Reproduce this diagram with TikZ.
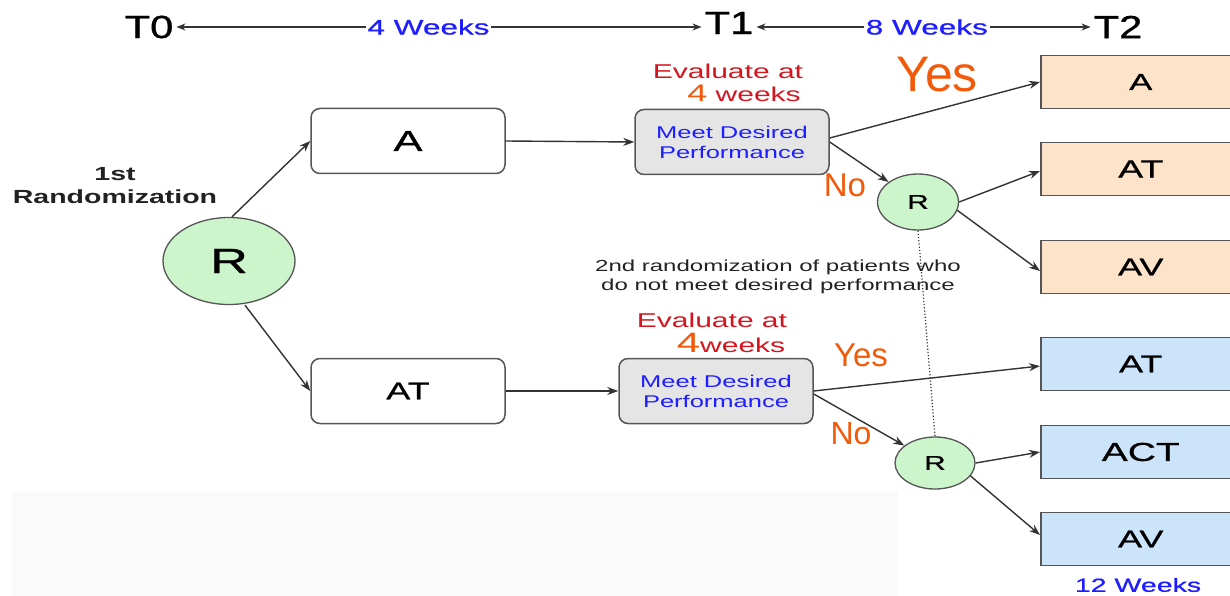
\documentclass[tikz,border=0pt]{standalone}
\usepackage{fontspec}
\setmainfont{Liberation Sans}
\newfontfamily\wf[FakeStretch=1.5]{Liberation Sans}
\newfontfamily\wfb[FakeStretch=1.5,FakeBold=0.8]{Liberation Sans}
\newfontfamily\tf[FakeStretch=1.3,FakeBold=1]{Liberation Sans}
\usetikzlibrary{arrows.meta,shapes.geometric}
\definecolor{peach}{HTML}{FDE3C9}
\definecolor{lblue}{HTML}{CCE4F9}
\definecolor{lgreen}{HTML}{CCF5CC}
\definecolor{boxgray}{HTML}{E5E5E5}
\definecolor{boxline}{HTML}{555555}
\definecolor{arrowc}{HTML}{333333}
\definecolor{tblue}{HTML}{1E1EFF}
\definecolor{tred}{HTML}{D5141E}
\definecolor{torange}{HTML}{F25A0A}
\definecolor{tdark}{HTML}{222222}
\definecolor{faint}{HTML}{FAFAFA}
\newcommand\setfs[2]{\fontsize{#1}{#2}\selectfont}
\tikzset{
  wbox/.style={draw=boxline, line width=1.5pt, rounded corners=9pt, fill=white,
    minimum width=194pt, minimum height=65pt, inner sep=0pt},
  gbox/.style={wbox, fill=boxgray, text=tblue, align=center, font={\wf\setfs{17}{20}}},
  obox/.style={draw=boxline, line width=1.5pt, fill=peach, minimum width=200pt,
    minimum height=53pt, inner sep=0pt, anchor=west, text width=190pt, align=center},
  bbox/.style={obox, fill=lblue},
  rnode/.style={ellipse, draw=boxline, line width=1.3pt, fill=lgreen, inner sep=0pt},
  arr/.style={-{Stealth[length=11pt,width=8pt]}, line width=1.4pt, draw=arrowc},
  tarr/.style={{Stealth[length=9pt,width=7pt]}-{Stealth[length=9pt,width=7pt]}, line width=1.1pt, draw=arrowc},
  tlabel/.style={font={\tf\setfs{32}{32}}, inner sep=3pt},
  wlabel/.style={font={\wfb\setfs{21}{21}}, text=tblue, fill=white, inner sep=2pt},
  yn/.style={text=torange, inner sep=0pt},
  evalr/.style={font={\wf\setfs{20}{20}}, text=tred, inner sep=0pt},
}
\begin{document}
\begin{tikzpicture}[x=1pt,y=-1pt]
\useasboundingbox (0,0) rectangle (1230,596);
\fill[faint] (12,492) rectangle (898,596);

% timeline
\node[tlabel] (T0) at (149,27) {T0};
\node[tlabel] (T1) at (729,23) {T1};
\node[tlabel] (T2) at (1118,27) {T2};
\draw[tarr] (T0.east) -- (T0.east -| T1.west)
  node[wlabel, pos=0.48] (w4) {4 Weeks};
\draw[tarr] (T1.east |- T2.west) -- (T2.west)
  node[wlabel, pos=0.51] (w8) {8 Weeks};

% first randomization
\node[font={\wf\bfseries\setfs{19}{23}}, align=center, text=tdark] (first) at (115,186) {1st\\Randomization};
\node[rnode, minimum width=132pt, minimum height=87pt, font={\wfb\setfs{35}{35}}] (bigR) at (229,261) {R};

\node[wbox, font={\wfb\setfs{29}{29}}] (bA) at (408,141) {A};
\node[wbox, font={\wfb\setfs{24}{24}}] (bAT) at (408,391) {AT};

\node[gbox] (m1) at (732,142) {Meet Desired\\Performance};
\node[gbox] (m2) at (716,391) {Meet Desired\\Performance};

\node[evalr] (e1) at (728,71) {Evaluate at};
\node[evalr, anchor=base] (e1b) at (744,102) {{\color{torange}\setfs{24}{24}4} weeks};
\node[evalr] (e2) at (712,320) {Evaluate at};
\node[evalr, anchor=base] (e2b) at (731,352) {{\color{torange}\setfs{28}{28}4}weeks};

\node[font={\wf\setfs{16}{19}}, text=tdark, align=center] (second) at (778,277)
  {2nd randomization of patients who\\do not meet desired performance};

% second randomization nodes
\node[rnode, minimum width=81pt, minimum height=56pt, font={\wfb\setfs{20}{20}}] (Rt) at (918,202) {R};
\node[rnode, minimum width=80pt, minimum height=52pt, font={\wfb\setfs{20}{20}}] (Rb) at (935,463) {R};

% final arms
\node[obox, font={\wfb\setfs{23}{23}}] (oA) at (1040,82) {A};
\node[obox, font={\wfb\setfs{25}{25}}] (oAT) at (1040,169) {AT};
\node[obox, font={\wfb\setfs{24}{24}}] (oAV) at (1040,267) {AV};
\node[bbox, font={\wfb\setfs{24}{24}}] (uAT) at (1040,364) {AT};
\node[bbox, font={\wfb\setfs{26}{26}}] (uACT) at (1040,452) {ACT};
\node[bbox, font={\wfb\setfs{24}{24}}] (uAV) at (1040,539) {AV};
\node[font={\wfb\setfs{19}{19}}, text=tblue, inner sep=0pt] (w12) at (1138,585) {12 Weeks};

% Yes / No labels
\node[yn, font={\setfs{50}{50}}] (yes1) at (937,75) {Yes};
\node[yn, font={\setfs{33}{33}}] (no1) at (845,185) {No};
\node[yn, font={\setfs{33}{33}}] (yes2) at (861,355) {Yes};
\node[yn, font={\setfs{32}{32}}] (no2) at (851,434) {No};

% connectors
\draw[arr] ([xshift=3pt]bigR.north) -- (bA.west);
\draw[arr] ([xshift=16pt]bigR.south) -- (bAT.west);
\draw[arr] (bA.east) -- (m1.west);
\draw[arr] (bAT.east) -- (m2.west);
\draw[arr] ([yshift=4pt]m1.east) -- (oA.west);
\draw[arr] (m1.east) -- (Rt);
\draw[arr] (Rt.east) -- ([yshift=-2pt]oAT.west);
\draw[arr] (Rt.-12) -- ([yshift=-4pt]oAV.west);
\draw[arr] (m2.east) -- ([yshift=-2pt]uAT.west);
\draw[arr] ([yshift=-3pt]m2.east) -- (Rb);
\draw[arr] (Rb.east) -- (uACT.west);
\draw[arr] (Rb.-20) -- ([yshift=4pt]uAV.west);
\draw[dotted, line width=1.2pt, draw=arrowc] (Rt.south) -- (Rb.north);
\end{tikzpicture}
\end{document}
